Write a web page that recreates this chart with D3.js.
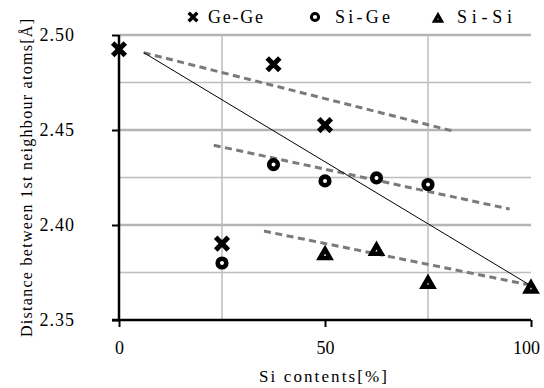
<!DOCTYPE html>
<html>
<head>
<meta charset="utf-8">
<script src="https://cdn.jsdelivr.net/npm/d3@7"></script>
<style>
  body { margin: 0; background: #fff; }
  text { font-family: "Liberation Serif", "DejaVu Serif", serif; fill: #000; }
</style>
</head>
<body>
<div id="plot"></div>
<script>
var width = 544;
var height = 388;

// data
var geGeX = [0, 25, 37.5, 50];
var geGeY = [2.4925, 2.3902, 2.4846, 2.4526];
var siGeX = [25, 37.5, 50, 62.5, 75];
var siGeY = [2.3800, 2.4318, 2.4232, 2.4248, 2.4213];
var siSiX = [50, 62.5, 75, 100];
var siSiY = [2.3855, 2.3877, 2.3703, 2.3678];

// trend lines (start / end points)
var trendGeGe = [[6, 2.4907], [80.8, 2.4496]];
var trendSiGe = [[23, 2.4420], [94.8, 2.4084]];
var trendSiSi = [[35.2, 2.3968], [99.5, 2.3685]];
var vegardLine = [[6, 2.4907], [100, 2.368]];

var xTicks = [0, 50, 100];
var xGrid = [25, 75];
var yTicks = [2.35, 2.40, 2.45, 2.50];
var yGridMajor = [2.40, 2.45, 2.50];
var yGridMinor = [2.375, 2.425, 2.475];

var canvas = d3.select('#plot')
    .append('svg')
    .attr('width', width)
    .attr('height', height);

var x = d3.scaleLinear().domain([0, 100]).range([119, 531]);
var y = d3.scaleLinear().domain([2.35, 2.50]).range([320, 35]);

// grid
canvas.selectAll('line.gminor')
    .data(yGridMinor)
    .enter().append('line')
    .attr('x1', x(0)).attr('x2', x(100))
    .attr('y1', function(d) { return y(d); })
    .attr('y2', function(d) { return y(d); })
    .attr('stroke', '#bdbdbd')
    .attr('stroke-width', 1.5);
canvas.selectAll('line.gmajor')
    .data(yGridMajor)
    .enter().append('line')
    .attr('x1', x(0)).attr('x2', x(100))
    .attr('y1', function(d) { return y(d); })
    .attr('y2', function(d) { return y(d); })
    .attr('stroke', '#b4b4b4')
    .attr('stroke-width', 2.5);
canvas.selectAll('line.gx')
    .data(xGrid)
    .enter().append('line')
    .attr('x1', function(d) { return x(d); })
    .attr('x2', function(d) { return x(d); })
    .attr('y1', y(2.50)).attr('y2', y(2.35))
    .attr('stroke', '#bdbdbd')
    .attr('stroke-width', 1.5);

// axes
var xAxis = d3.axisBottom(x).tickValues(xTicks).tickSize(7).tickFormat(d3.format('d'));
var gx = canvas.append('g')
    .attr('transform', 'translate(0,' + y(2.35) + ')')
    .call(xAxis);
gx.select('.domain').attr('stroke', '#000').attr('stroke-width', 2.5)
    .attr('d', 'M' + (x(0) - 7) + ',0H' + x(100));
gx.selectAll('.tick line').attr('stroke', '#000').attr('stroke-width', 2);
gx.selectAll('.tick text')
    .attr('y', 21)
    .attr('font-size', 18)
    .attr('fill', '#000');
gx.selectAll('.tick').filter(function(d) { return d === 100; })
    .select('text').attr('dx', -5);

var yAxis = d3.axisLeft(y).tickValues(yTicks).tickSize(7).tickFormat(d3.format('.2f'));
var gy = canvas.append('g')
    .attr('transform', 'translate(' + x(0) + ',0)')
    .call(yAxis);
gy.select('.domain').attr('stroke', '#000').attr('stroke-width', 2.5)
    .attr('d', 'M0,' + y(2.50) + 'V' + y(2.35));
gy.selectAll('.tick line').attr('stroke', '#000').attr('stroke-width', 2);
gy.selectAll('.tick text')
    .attr('x', -44)
    .attr('text-anchor', 'end')
    .attr('font-size', 18)
    .attr('letter-spacing', 1)
    .attr('fill', '#000');

// trend lines
var line_gen = d3.line()
    .x(function(d) { return x(d[0]); })
    .y(function(d) { return y(d[1]); });

[trendGeGe, trendSiGe, trendSiSi].forEach(function(t) {
    canvas.append('path')
        .attr('d', line_gen(t))
        .attr('fill', 'none')
        .attr('stroke', '#7a7a7a')
        .attr('stroke-width', 3)
        .attr('stroke-dasharray', '7,4.5');
});
canvas.append('path')
    .attr('d', line_gen(vegardLine))
    .attr('fill', 'none')
    .attr('stroke', '#000')
    .attr('stroke-width', 1);

// markers
function crossPath(s) {
    return 'M' + (-s) + ',' + (-s) + 'L' + s + ',' + s + 'M' + (-s) + ',' + s + 'L' + s + ',' + (-s);
}
function triPath(s) {
    var h = s * Math.sqrt(3) / 2;
    return 'M0,' + (-h / 2 + 1) + 'L' + (s / 2) + ',' + (h / 2 + 1) + 'L' + (-s / 2) + ',' + (h / 2 + 1) + 'Z';
}

canvas.selectAll('path.gege')
    .data(geGeX)
    .enter().append('path')
    .attr('class', 'gege')
    .attr('d', crossPath(6.3))
    .attr('transform', function(d, i) { return 'translate(' + x(d) + ',' + y(geGeY[i]) + ')'; })
    .attr('stroke', '#000')
    .attr('stroke-width', 5);

canvas.selectAll('circle.sige')
    .data(siGeX)
    .enter().append('circle')
    .attr('class', 'sige')
    .attr('cx', function(d) { return x(d); })
    .attr('cy', function(d, i) { return y(siGeY[i]); })
    .attr('r', 4.3)
    .attr('fill', '#fff')
    .attr('stroke', '#000')
    .attr('stroke-width', 4.6);

canvas.selectAll('path.sisi')
    .data(siSiX)
    .enter().append('path')
    .attr('class', 'sisi')
    .attr('d', triPath(10))
    .attr('transform', function(d, i) { return 'translate(' + x(d) + ',' + y(siSiY[i]) + ')'; })
    .attr('fill', '#fff')
    .attr('stroke', '#000')
    .attr('stroke-width', 4.5)
    .attr('stroke-linejoin', 'miter');

// legend
var legendY = 17;
canvas.append('path')
    .attr('d', crossPath(4.3))
    .attr('transform', 'translate(193,' + legendY + ')')
    .attr('stroke', '#000').attr('stroke-width', 3.4);
canvas.append('circle')
    .attr('cx', 315).attr('cy', legendY).attr('r', 3.6)
    .attr('fill', '#fff').attr('stroke', '#000').attr('stroke-width', 3);
canvas.append('path')
    .attr('d', triPath(7))
    .attr('transform', 'translate(438,' + legendY + ')')
    .attr('fill', '#fff').attr('stroke', '#000').attr('stroke-width', 3.2);

var legendLabels = ['Ge-Ge', 'Si-Ge', 'Si-Si'];
var legendX = [208, 335, 457];
canvas.selectAll('text.legend')
    .data(legendLabels)
    .enter().append('text')
    .attr('class', 'legend')
    .attr('x', function(d, i) { return legendX[i]; })
    .attr('y', legendY + 6)
    .attr('font-size', 18)
    .attr('textLength', 55)
    .attr('lengthAdjust', 'spacing')
    .text(function(d) { return d; });

// axis titles
canvas.append('text')
    .attr('x', 323)
    .attr('y', 382)
    .attr('text-anchor', 'middle')
    .attr('font-size', 17)
    .attr('textLength', 128)
    .attr('lengthAdjust', 'spacing')
    .text('Si contents[%]');

canvas.append('text')
    .attr('transform', 'translate(32,178) rotate(-90)')
    .attr('text-anchor', 'middle')
    .attr('font-size', 16)
    .attr('textLength', 318)
    .attr('lengthAdjust', 'spacing')
    .text('Distance between 1st neighbour atoms[Å]');
</script>
</body>
</html>
